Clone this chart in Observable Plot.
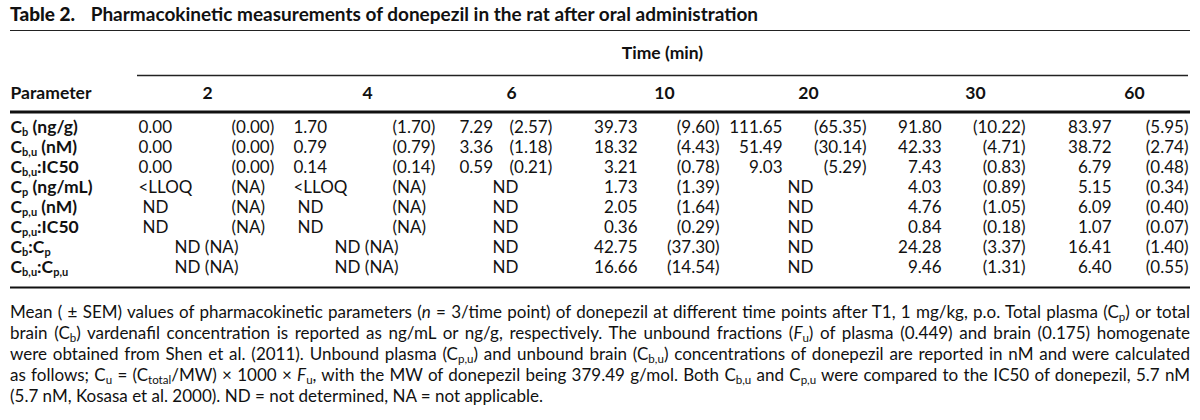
<!DOCTYPE html>
<html>
<head>
<meta charset="utf-8">
<script src="https://cdn.jsdelivr.net/npm/d3@7"></script>
<script src="https://cdn.jsdelivr.net/npm/@observablehq/plot@0.6"></script>
<style>
  body { margin: 0; background: #fff; font-family: Lato, "Noto Sans", sans-serif; color: #111; }
  #wrap { position: relative; width: 1200px; height: 420px; overflow: hidden; }
  #title { position: absolute; left: 10px; right: 10px; top: 2px; font-size: 19px; font-weight: 700;
           line-height: 24px; padding-bottom: 4px; border-bottom: 1.6px solid #222; white-space: nowrap; }
  #title .lab { font-weight: 900; margin-right: 11px; }
  #chart { position: absolute; left: 0; top: 33px; }
  #caption { position: absolute; left: 10px; width: 1180px; top: 301px; font-size: 17px; line-height: 21px; }
  #caption .cl { text-align: justify; text-align-last: justify; }
  #caption sub { font-size: 0.68em; vertical-align: -0.25em; line-height: 0; }
</style>
</head>
<body>
<div id="wrap">
  <div id="title"><span class="lab">Table 2.</span> Pharmacokinetic measurements of donepezil in the rat after oral administration</div>
  <div id="chart"></div>
  <div id="caption">
    <div class="cl">Mean ( ± SEM) values of pharmacokinetic parameters (<i>n</i> = 3/time point) of donepezil at different time points after T1, 1 mg/kg, p.o. Total plasma (C<sub>p</sub>) or total</div>
    <div class="cl">brain (C<sub>b</sub>) vardenafil concentration is reported as ng/mL or ng/g, respectively. The unbound fractions (<i>F</i><sub>u</sub>) of plasma (0.449) and brain (0.175) homogenate</div>
    <div class="cl">were obtained from Shen et al. (2011). Unbound plasma (C<sub>p,u</sub>) and unbound brain (C<sub>b,u</sub>) concentrations of donepezil are reported in nM and were calculated</div>
    <div class="cl">as follows; C<sub>u</sub> = (C<sub>total</sub>/MW) × 1000 × <i>F</i><sub>u</sub>, with the MW of donepezil being 379.49 g/mol. Both C<sub>b,u</sub> and C<sub>p,u</sub> were compared to the IC50 of donepezil, 5.7 nM</div>
    <div>(5.7 nM, Kosasa et al. 2000). ND = not determined, NA = not applicable.</div>
  </div>
</div>
<script>
// ---------- data ----------
const times = [2, 4, 6, 10, 20, 30, 60];
const params = ["C_{b} (ng/g)", "C_{b,u} (nM)", "C_{b,u}:IC50", "C_{p} (ng/mL)",
                "C_{p,u} (nM)", "C_{p,u}:IC50", "C_{b}:C_{p}", "C_{b,u}:C_{p,u}"];
const cbMean     = [0.00, 1.70, 7.29, 39.73, 111.65, 91.80, 83.97];
const cbSem      = [0.00, 1.70, 2.57, 9.60, 65.35, 10.22, 5.95];
const cbuMean    = [0.00, 0.79, 3.36, 18.32, 51.49, 42.33, 38.72];
const cbuSem     = [0.00, 0.79, 1.18, 4.43, 30.14, 4.71, 2.74];
const cbuIcMean  = [0.00, 0.14, 0.59, 3.21, 9.03, 7.43, 6.79];
const cbuIcSem   = [0.00, 0.14, 0.21, 0.78, 5.29, 0.83, 0.48];
const cpMean     = ["<LLOQ", "<LLOQ", "ND", 1.73, "ND", 4.03, 5.15];
const cpSem      = ["NA", "NA", null, 1.39, null, 0.89, 0.34];
const cpuMean    = ["ND", "ND", "ND", 2.05, "ND", 4.76, 6.09];
const cpuSem     = ["NA", "NA", null, 1.64, null, 1.05, 0.40];
const cpuIcMean  = ["ND", "ND", "ND", 0.36, "ND", 0.84, 1.07];
const cpuIcSem   = ["NA", "NA", null, 0.29, null, 0.18, 0.07];
const cbCpMean   = ["ND (NA)", "ND (NA)", "ND", 42.75, "ND", 24.28, 16.41];
const cbCpSem    = [null, null, null, 37.30, null, 3.37, 1.40];
const cbuCpuMean = ["ND (NA)", "ND (NA)", "ND", 16.66, "ND", 9.46, 6.40];
const cbuCpuSem  = [null, null, null, 14.54, null, 1.31, 0.55];
const headerTitle = "Time (min)";
const paramHeader = "Parameter";

// ---------- layout (x in table units = px, y in row units) ----------
const groups = [
  {mean: 138, sem: 231, center: 207, merged: 206, align: "start"},
  {mean: 293, sem: 392, center: 367, merged: 366, align: "start"},
  {mean: 459, sem: 509, center: 511, merged: 505, align: "start"},
  {mean: 637, sem: 719, center: 664, merged: 664, align: "end"},
  {mean: 782, sem: 866, center: 808, merged: 800, align: "end"},
  {mean: 941, sem: 1025, center: 975, merged: 975, align: "end"},
  {mean: 1111, sem: 1188, center: 1134, merged: 1134, align: "end"}
];
const table = {left: 10, right: 1190, spanLeft: 137, timeCenter: 662, ndIndent: 4};
const rowsY = {time: -3.72, thin: -2.6, header: -1.72, thick: -0.77, bottom: 8.0};
const rowStep = 20, firstRowPx = 94, H = 262;

const series = [[cbMean, cbSem], [cbuMean, cbuSem], [cbuIcMean, cbuIcSem], [cpMean, cpSem],
                [cpuMean, cpuSem], [cpuIcMean, cpuIcSem], [cbCpMean, cbCpSem], [cbuCpuMean, cbuCpuSem]];
const fmt = v => typeof v === "number" ? v.toFixed(2) : v;
const cells = [];
params.forEach((p, i) => {
  const [means, sems] = series[i];
  times.forEach((t, j) => {
    const g = groups[j], m = means[j], s = sems[j];
    if (s === null) cells.push({row: i, x: g.merged, text: fmt(m), anchor: "middle"});
    else {
      const indent = (m === "ND" && g.align === "start") ? table.ndIndent : 0;
      cells.push({row: i, x: g.mean + indent, text: fmt(m), anchor: g.align});
      cells.push({row: i, x: g.sem, text: `(${fmt(s)})`, anchor: g.align});
    }
  });
});
const labels = params.map((p, i) => ({row: i, text: p}));
const heads = times.map((t, j) => ({x: groups[j].center, text: String(t)}));

const ff = "Lato, 'Noto Sans', sans-serif";
const body = {fontSize: 17, fill: "#111", fontFamily: ff};
const bold = {fontSize: 17.5, fill: "#111", fontFamily: ff, fontWeight: 700};
const marks = [
  Plot.ruleY([rowsY.thin], {x1: table.spanLeft, x2: groups[6].sem, stroke: "#222", strokeWidth: 1.4}),
  Plot.ruleY([rowsY.thick], {x1: table.left, x2: table.right, stroke: "#111", strokeWidth: 3}),
  Plot.ruleY([rowsY.bottom], {x1: table.left, x2: table.right, stroke: "#111", strokeWidth: 2.2}),
  Plot.text([headerTitle], {x: () => table.timeCenter, y: () => rowsY.time, text: d => d, ...bold}),
  Plot.text([paramHeader], {x: () => table.left, y: () => rowsY.header, text: d => d, textAnchor: "start", ...bold}),
  Plot.text(heads, {x: "x", y: () => rowsY.header, text: "text", ...bold}),
  Plot.text(labels, {x: () => table.left, y: "row", text: "text", textAnchor: "start", ...bold}),
  Plot.text(cells.filter(d => d.anchor === "start"), {x: "x", y: "row", text: "text", textAnchor: "start", ...body}),
  Plot.text(cells.filter(d => d.anchor === "end"), {x: "x", y: "row", text: "text", textAnchor: "end", ...body}),
  Plot.text(cells.filter(d => d.anchor === "middle"), {x: "x", y: "row", text: "text", textAnchor: "middle", ...body})
];

const svg = Plot.plot({
  width: 1200, height: H, margin: 0,
  style: {background: "transparent", overflow: "visible"},
  x: {type: "linear", domain: [0, 1200], range: [0, 1200], axis: null},
  y: {type: "linear", domain: [-firstRowPx / rowStep, (H - firstRowPx) / rowStep], range: [0, H], axis: null},
  marks
});

// subscripts for labels written as X_{sub}
const NS = "http://www.w3.org/2000/svg";
svg.querySelectorAll("text").forEach(el => {
  const s = el.textContent;
  if (!s.includes("_{")) return;
  while (el.firstChild) el.removeChild(el.firstChild);
  const re = /_\{([^}]*)\}/g;
  let last = 0, m, shifted = false;
  const add = (txt, sub) => {
    const t = document.createElementNS(NS, "tspan");
    t.textContent = txt;
    if (sub) { t.setAttribute("font-size", "11"); if (!shifted) t.setAttribute("dy", "3"); }
    else if (shifted) t.setAttribute("dy", "-3");
    el.appendChild(t);
    shifted = sub;
  };
  while ((m = re.exec(s))) {
    if (m.index > last) add(s.slice(last, m.index), false);
    add(m[1], true);
    last = re.lastIndex;
  }
  if (last < s.length) add(s.slice(last), false);
});
document.getElementById("chart").appendChild(svg);
</script>
</body>
</html>
